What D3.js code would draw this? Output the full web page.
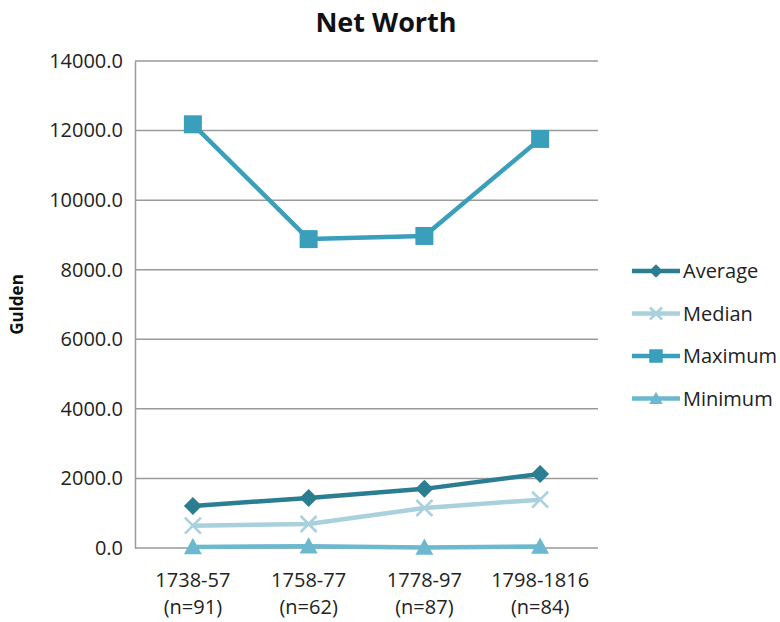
<!DOCTYPE html>
<html>
<head>
<meta charset="utf-8">
<script src="https://cdn.jsdelivr.net/npm/d3@7"></script>
<style>
  body { margin: 0; background: #fff; }
  svg { display: block; font-family: "Open Sans", "Noto Sans", sans-serif; }
</style>
</head>
<body>
<svg id="chart" width="780" height="622"></svg>
<script>
// Net worth per period (gulden)
const periods = ["1738-57", "1758-77", "1778-97", "1798-1816"];
const sampleSizes = ["(n=91)", "(n=62)", "(n=87)", "(n=84)"];
const average = [1210, 1440, 1700, 2130];
const median = [640, 690, 1150, 1390];
const maximum = [12180, 8880, 8970, 11760];
const minimum = [30, 50, 15, 40];
const yTicks = [0, 2000, 4000, 6000, 8000, 10000, 12000, 14000];

const series = [
  { name: "Average", values: average, color: "#2b7d91", symbol: "diamond" },
  { name: "Median", values: median, color: "#a9d0dd", symbol: "cross" },
  { name: "Maximum", values: maximum, color: "#3a9fba", symbol: "square" },
  { name: "Minimum", values: minimum, color: "#6cb9cf", symbol: "triangle" }
];

const svg = d3.select("#chart");
const margin = { left: 135, right: 182, top: 61, bottom: 74 };
const W = 780, H = 622;
const FONT = "Open Sans, Noto Sans, sans-serif";

const x = d3.scaleBand().domain(periods).range([margin.left, W - margin.right]);
const y = d3.scaleLinear().domain([0, 14000]).range([H - margin.bottom, margin.top]);

// gridlines
svg.append("g")
  .selectAll("line")
  .data(yTicks.filter(d => d > 0))
  .join("line")
  .attr("x1", margin.left).attr("x2", W - margin.right)
  .attr("y1", d => y(d)).attr("y2", d => y(d))
  .attr("stroke", "#9a9a9a").attr("stroke-width", 1.5);

// y axis
const yAxis = svg.append("g")
  .attr("transform", `translate(${margin.left},0)`)
  .call(d3.axisLeft(y).tickValues(yTicks).tickFormat(d3.format(".1f")).tickSize(0).tickPadding(12));
yAxis.select(".domain").attr("stroke", "#9a9a9a").attr("stroke-width", 1.5);
yAxis.selectAll("text").attr("font-size", 20).attr("fill", "#222").attr("font-family", FONT);

// x axis baseline
svg.append("line")
  .attr("x1", margin.left).attr("x2", W - margin.right)
  .attr("y1", y(0)).attr("y2", y(0))
  .attr("stroke", "#9a9a9a").attr("stroke-width", 1.5);

// x labels (two lines)
const xl = svg.append("g").selectAll("text").data(periods).join("text")
  .attr("x", d => x(d) + x.bandwidth() / 2)
  .attr("y", 587)
  .attr("text-anchor", "middle")
  .attr("font-size", 20).attr("fill", "#222");
xl.append("tspan").attr("x", d => x(d) + x.bandwidth() / 2).text(d => d);
xl.append("tspan").attr("x", d => x(d) + x.bandwidth() / 2).attr("dy", 27)
  .text((d, i) => sampleSizes[i]);

// title
svg.append("text").attr("x", 386).attr("y", 32).attr("text-anchor", "middle")
  .attr("font-size", 27).attr("font-weight", "bold").attr("fill", "#111")
  .text("Net Worth");

// y label
svg.append("text")
  .attr("transform", `translate(23,${(margin.top + H - margin.bottom) / 2}) rotate(-90)`)
  .attr("text-anchor", "middle")
  .attr("font-size", 17).attr("font-weight", "bold").attr("fill", "#111")
  .text("Gulden");

// marker shapes, r = half-width in px
function markerPath(symbol, r) {
  switch (symbol) {
    case "diamond": return `M0,${-r}L${r},0L0,${r}L${-r},0Z`;
    case "square": return `M${-r},${-r}H${r}V${r}H${-r}Z`;
    case "triangle": return `M0,${-r}L${r},${r * 0.8}L${-r},${r * 0.8}Z`;
    case "cross": return `M${-r},${-r}L${r},${r}M${r},${-r}L${-r},${r}`;
  }
}
const markerR = { diamond: 9, cross: 8, square: 9, triangle: 9 };

function drawSymbol(g, s, cx, cy, scale) {
  const r = markerR[s.symbol] * scale;
  const p = g.append("path").attr("d", markerPath(s.symbol, r)).attr("transform", `translate(${cx},${cy})`);
  if (s.symbol === "cross") p.attr("fill", "none").attr("stroke", s.color).attr("stroke-width", 2.5);
  else p.attr("fill", s.color);
}

const line = d3.line().x((d, i) => x(periods[i]) + x.bandwidth() / 2).y(d => y(d));

// draw series: minimum, median, average, maximum order
const drawOrder = [3, 1, 0, 2];
drawOrder.forEach(k => {
  const s = series[k];
  const g = svg.append("g");
  g.append("path").datum(s.values).attr("d", line)
    .attr("fill", "none").attr("stroke", s.color).attr("stroke-width", 4.5)
    .attr("stroke-linejoin", "round");
  s.values.forEach((v, i) => drawSymbol(g, s, x(periods[i]) + x.bandwidth() / 2, y(v), 1));
});

// legend
const legend = svg.append("g");
series.forEach((s, i) => {
  const ly = 271 + i * 42.5;
  const g = legend.append("g");
  g.append("line").attr("x1", 632).attr("x2", 680).attr("y1", ly).attr("y2", ly)
    .attr("stroke", s.color).attr("stroke-width", 4.5);
  drawSymbol(g, s, 656, ly, 0.75);
  g.append("text").attr("x", 683).attr("y", ly).attr("dy", "0.35em")
    .attr("font-size", 20).attr("fill", "#222").text(s.name);
});
</script>
</body>
</html>
